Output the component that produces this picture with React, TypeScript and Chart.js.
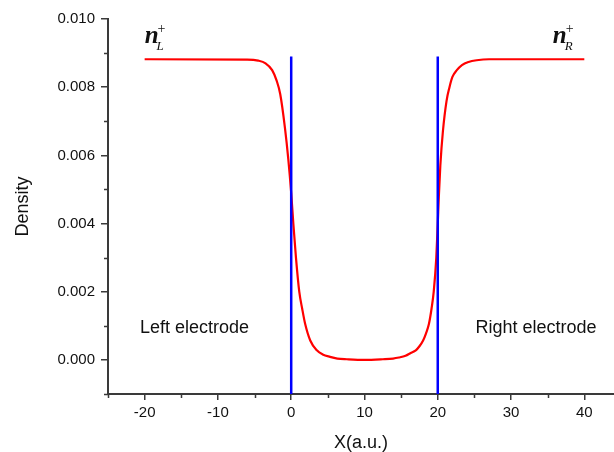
import React, { useEffect, useRef } from 'react';
import { Chart, registerables } from 'chart.js';

Chart.register(...registerables);

// ---- data ----
const positionX = [
  -20, -6, -4.5, -3.5, -2.6, -2, -1.5, -0.85, -0.4, 0, 0.29, 0.65, 1.1, 1.5, 1.9, 2.6, 3.5,
  4.3, 5.3, 6.3, 7.6, 10, 12.5, 13.9, 14.7, 15.6, 16.3, 17, 17.5, 18, 18.4, 18.8, 19.15,
  19.45, 19.8, 20, 20.15, 20.35, 20.7, 21.2, 21.6, 22, 22.6, 23.3, 24.2, 25.3, 27, 40,
];
const density = [
  0.00882, 0.00881, 0.00878, 0.0087, 0.0085, 0.0082, 0.0078, 0.0068, 0.0059, 0.0049, 0.004,
  0.003, 0.002, 0.0015, 0.00106, 0.00057, 0.00028, 0.00016, 0.00009, 0.00004, 0.00002, 0.0,
  0.00002, 0.00004, 0.00007, 0.00012, 0.0002, 0.00028, 0.0004, 0.00057, 0.00078, 0.00106,
  0.0015, 0.002, 0.003, 0.004, 0.0048, 0.0057, 0.0067, 0.0076, 0.008, 0.0083, 0.0085,
  0.00865, 0.00874, 0.00879, 0.00882, 0.00882,
];
const electrodeX = [0, 20];
const electrodeYRange = [-0.001, 0.0089];

const xMajorTicks = [-20, -10, 0, 10, 20, 30, 40];
const xMinorTicks = [-25, -15, -5, 5, 15, 25, 35];
const yMajorTicks = [0, 0.002, 0.004, 0.006, 0.008, 0.01];
const yMinorTicks = [-0.001, 0.001, 0.003, 0.005, 0.007, 0.009];

const regionLabels = ['Left electrode', 'Right electrode'];
const regionLabelX = [-13.2, 33.4];
const regionLabelY = 0.00094;

const densityLabelSubs = ['L', 'R'];
const densityLabelX = [-20, 35.7];
const densityLabelY = 0.0093;

const xTitle = 'X(a.u.)';
const yTitle = 'Density';

// ---- styles ----
const AXIS = '#3a3a3a';
const TEXT = '#111111';
const SANS = '"Liberation Sans", Arial, sans-serif';
const SERIF = '"Liberation Serif", "DejaVu Serif", serif';

const decorPlugin = {
  id: 'decor',
  afterDraw(chart: any) {
    const ctx = chart.ctx as CanvasRenderingContext2D;
    const xs = chart.scales.x;
    const ys = chart.scales.y;
    const { left, bottom } = chart.chartArea;
    ctx.save();
    // minor ticks
    ctx.strokeStyle = AXIS;
    ctx.lineWidth = 1.5;
    ctx.beginPath();
    xMinorTicks.forEach((v) => {
      const p = Math.round(xs.getPixelForValue(v)) + 0.5;
      ctx.moveTo(p, bottom);
      ctx.lineTo(p, bottom + 4);
    });
    yMinorTicks.forEach((v) => {
      const p = Math.round(ys.getPixelForValue(v)) + 0.5;
      ctx.moveTo(left, p);
      ctx.lineTo(left - 4, p);
    });
    ctx.stroke();

    // region labels
    ctx.fillStyle = TEXT;
    ctx.font = `18px ${SANS}`;
    ctx.textAlign = 'center';
    ctx.textBaseline = 'middle';
    regionLabels.forEach((t, i) => {
      ctx.fillText(t, xs.getPixelForValue(regionLabelX[i]), ys.getPixelForValue(regionLabelY));
    });

    // n_L^+ / n_R^+
    ctx.textAlign = 'left';
    ctx.textBaseline = 'alphabetic';
    densityLabelSubs.forEach((s, i) => {
      const px = xs.getPixelForValue(densityLabelX[i]);
      const py = ys.getPixelForValue(densityLabelY);
      ctx.font = `italic bold 25px ${SERIF}`;
      ctx.fillText('n', px, py);
      const w = ctx.measureText('n').width;
      ctx.font = `italic 13px ${SERIF}`;
      ctx.fillText(s, px + w - 2, py + 7);
      ctx.font = `14px ${SERIF}`;
      ctx.fillText('+', px + w - 1, py - 10);
    });
    ctx.restore();
  },
};

export default function App() {
  const canvasRef = useRef<HTMLCanvasElement | null>(null);

  useEffect(() => {
    const canvas = canvasRef.current;
    if (!canvas) return;
    const chart = new Chart(canvas, {
      type: 'line',
      data: {
        datasets: [
          {
            label: 'Left electrode boundary',
            data: electrodeYRange.map((y) => ({ x: electrodeX[0], y })),
            borderColor: '#0000ff',
            borderWidth: 2.5,
            pointRadius: 0,
            tension: 0,
          },
          {
            label: 'Right electrode boundary',
            data: electrodeYRange.map((y) => ({ x: electrodeX[1], y })),
            borderColor: '#0000ff',
            borderWidth: 2.5,
            pointRadius: 0,
            tension: 0,
          },
          {
            label: 'Density',
            data: positionX.map((x, i) => ({ x, y: density[i] })),
            borderColor: '#ff0000',
            borderWidth: 2.2,
            pointRadius: 0,
            cubicInterpolationMode: 'monotone',
          },
        ],
      },
      options: {
        responsive: false,
        animation: false,
        devicePixelRatio: 1,
        layout: { padding: { top: 19, right: 0, bottom: 0, left: 0 } },
        plugins: { legend: { display: false }, tooltip: { enabled: false } },
        scales: {
          x: {
            type: 'linear',
            min: -25,
            max: 44.05,
            afterBuildTicks: (s: any) => {
              s.ticks = xMajorTicks.map((v) => ({ value: v }));
            },
            afterFit: (s: any) => {
              s.height = 58;
            },
            grid: {
              display: true,
              drawOnChartArea: false,
              drawTicks: true,
              tickLength: 6,
              color: AXIS,
              lineWidth: 1.5,
            },
            border: { display: true, color: AXIS, width: 2 },
            ticks: {
              autoSkip: false,
              maxRotation: 0,
              padding: 4,
              color: TEXT,
              font: { family: SANS, size: 15 },
              callback: (v: any) => String(v),
            },
            title: {
              display: true,
              text: xTitle,
              color: TEXT,
              font: { family: SANS, size: 18, lineHeight: 1 },
              padding: 0,
            },
          },
          y: {
            type: 'linear',
            min: -0.001,
            max: 0.01,
            afterBuildTicks: (s: any) => {
              s.ticks = yMajorTicks.map((v) => ({ value: v }));
            },
            afterFit: (s: any) => {
              s.width = 108;
            },
            grid: {
              display: true,
              drawOnChartArea: false,
              drawTicks: true,
              tickLength: 7,
              color: AXIS,
              lineWidth: 1.5,
            },
            border: { display: true, color: AXIS, width: 2 },
            ticks: {
              padding: 6,
              color: TEXT,
              font: { family: SANS, size: 15 },
              callback: (v: any) => Number(v).toFixed(3),
            },
            title: {
              display: true,
              text: yTitle,
              color: TEXT,
              font: { family: SANS, size: 18, lineHeight: 1 },
              padding: { top: 14, bottom: 0 },
            },
          },
        },
      },
      plugins: [decorPlugin],
    } as any);
    return () => chart.destroy();
  }, []);

  return (
    <div style={{ position: 'absolute', left: 0, top: 0, width: 614, height: 452, background: '#fff' }}>
      <canvas ref={canvasRef} width={614} height={452} style={{ display: 'block' }} />
    </div>
  );
}
